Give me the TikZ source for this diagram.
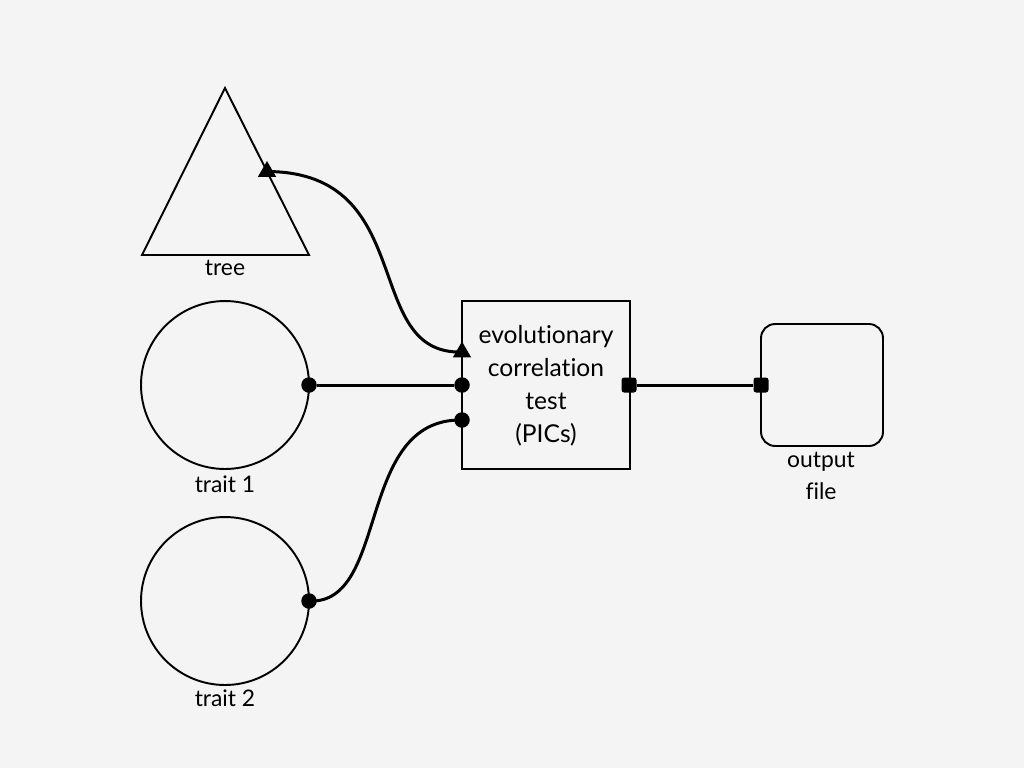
\documentclass[tikz,border=0pt]{standalone}
\usepackage{fontspec}
\setmainfont{Lato}[Ligatures=NoCommon]
\usetikzlibrary{shapes.geometric}
\definecolor{paper}{HTML}{F4F4F4}

\begin{document}
\begin{tikzpicture}[x=0.02cm, y=-0.02cm,
    shape line/.style={line width=1.1pt},
    wire/.style={line width=1.7pt},
    dotport/.style={circle, fill=black, inner sep=0pt, minimum size=0.31cm},
    sqport/.style={rectangle, rounded corners=1.5pt, fill=black, inner sep=0pt, minimum size=0.3cm},
    triport/.style={regular polygon, regular polygon sides=3, fill=black, inner sep=0pt, minimum size=0.42cm},
    lbl/.style={font=\fontsize{13}{18}\selectfont, inner sep=0pt}]
    \fill[paper] (0,0) rectangle (1024,768);
    \useasboundingbox (0,0) rectangle (1024,768);

    % Inputs
    \draw[shape line] (225,88) -- (309,255) -- (142,255) -- cycle;
    \node[lbl] (treelbl) at (225,268) {tree};

    \node[shape line, draw, circle, minimum size=3.36cm] (trait1) at (225,385) {};
    \node[lbl] (trait1lbl) at (225,484) {trait 1};

    \node[shape line, draw, circle, minimum size=3.36cm] (trait2) at (225,601) {};
    \node[lbl] (trait2lbl) at (225,698) {trait 2};

    % Test
    \node[shape line, draw, rectangle, minimum size=3.36cm, inner sep=0pt] (test) at (546,385) {};
    \node[lbl, align=center, font=\fontsize{14}{18.7}\selectfont] (testlbl) at (546,386)
      {evolutionary\\correlation\\test\\(PICs)};

    % Output
    \node[shape line, draw, rectangle, rounded corners=8pt, minimum size=2.44cm] (out) at (822,385) {};
    \node[lbl, align=center] (outlbl) at (821,476) {output\\file};

    % Ports
    \node[triport] (treeport) at (267,171.5) {};
    \node[dotport] (trait1port) at (309,385) {};
    \node[dotport] (trait2port) at (309,601) {};
    \node[triport] (testtree) at (462,352) {};
    \node[dotport] (testa) at (462,385) {};
    \node[dotport] (testb) at (462,420) {};
    \node[sqport] (testout) at (629,385) {};
    \node[sqport] (outin) at (761,385) {};

    % Wires
    \draw[wire] (treeport.center) .. controls (420,172) and (360,355) .. (testtree.center);
    \draw[wire] (trait1port) -- (testa);
    \draw[wire] (trait2port.center) .. controls (390,605) and (355,418) .. (testb.center);
    \draw[wire] (testout) -- (outin);
\end{tikzpicture}
\end{document}
